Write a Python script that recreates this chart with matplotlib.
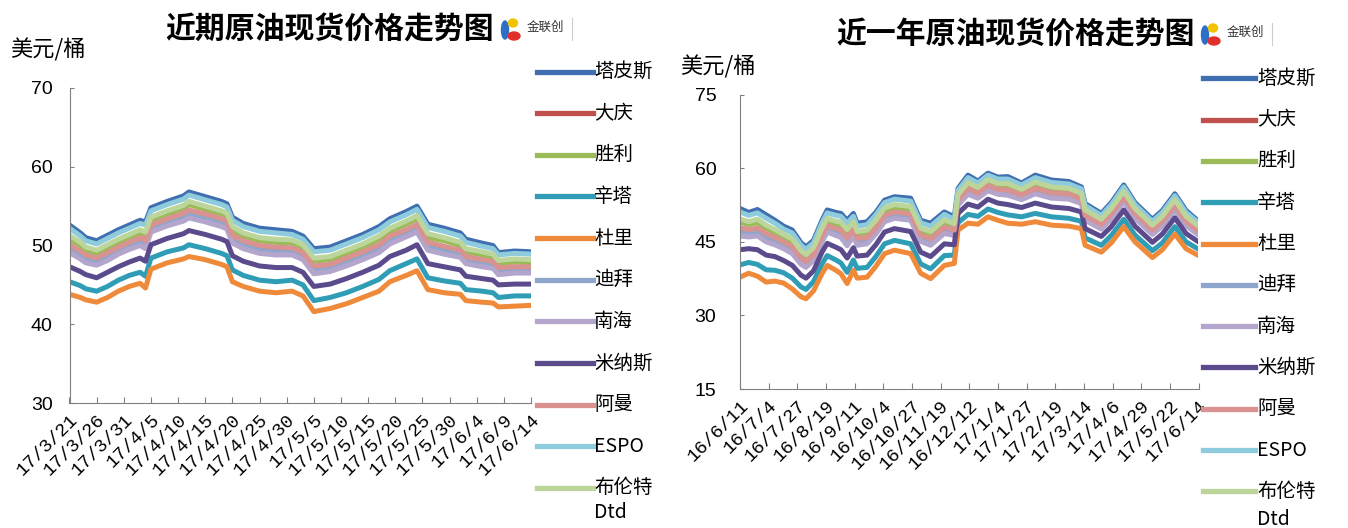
import pandas as pd
import matplotlib.pyplot as plt
from matplotlib.lines import Line2D
from matplotlib.patches import Ellipse

plt.rcParams['font.family'] = ['Noto Sans CJK SC', 'DejaVu Sans']

W, H = 1348, 528


def fx(x):
    return x / W


def fy(y):
    return 1 - y / H


names = ["塔皮斯", "大庆", "胜利", "辛塔", "杜里", "迪拜", "南海", "米纳斯", "阿曼", "ESPO", "布伦特\nDtd"]
colors = ["#3f6fb0", "#c0504d", "#9bbb59", "#2f9db5", "#ef8a3a", "#8fa6cc",
          "#b3a5cc", "#5b4a8c", "#d9928f", "#8ecbdc", "#bcd59a"]

# ---- recent chart (2017-03-21 .. 2017-06-14) ----
recent_dates = pd.to_datetime([
    "2017-03-21", "2017-03-23", "2017-03-24", "2017-03-26", "2017-03-28", "2017-03-30",
    "2017-04-01", "2017-04-03", "2017-04-04", "2017-04-05", "2017-04-08", "2017-04-11",
    "2017-04-12", "2017-04-15", "2017-04-18", "2017-04-19", "2017-04-20", "2017-04-22",
    "2017-04-25", "2017-04-28", "2017-05-01", "2017-05-03", "2017-05-05", "2017-05-08",
    "2017-05-11", "2017-05-14", "2017-05-17", "2017-05-19", "2017-05-22", "2017-05-24",
    "2017-05-26", "2017-05-29", "2017-06-01", "2017-06-02", "2017-06-05", "2017-06-07",
    "2017-06-08", "2017-06-11", "2017-06-14"])
recent_tapis = [52.6, 51.6, 51.0, 50.6, 51.3, 52.0, 52.6, 53.2, 53.0, 54.8, 55.6, 56.3, 56.8, 56.2, 55.6, 55.3, 53.6, 52.8, 52.2, 52.0,
                51.8, 51.2, 49.6, 49.8, 50.6, 51.4, 52.4, 53.4, 54.3, 55.0, 52.7, 52.2, 51.6, 50.8, 50.3, 50.0, 49.1, 49.3, 49.2]
recent_daqing = [49.8, 49.0, 48.5, 48.1, 48.8, 49.5, 50.1, 50.6, 50.3, 52.3, 53.1, 53.7, 54.2, 53.6, 53.0, 52.7, 51.0, 50.2, 49.6, 49.4,
                 49.4, 48.8, 47.0, 47.3, 48.0, 48.8, 49.8, 50.8, 51.7, 52.4, 50.0, 49.6, 49.1, 48.3, 47.9, 47.7, 46.9, 47.1, 47.0]
recent_shengli = [50.8, 50.0, 49.4, 49.0, 49.7, 50.4, 51.0, 51.6, 51.3, 53.2, 54.0, 54.7, 55.2, 54.6, 54.0, 53.7, 52.0, 51.2, 50.6, 50.4,
                  50.3, 49.7, 48.0, 48.2, 49.0, 49.8, 50.8, 51.8, 52.7, 53.4, 51.0, 50.6, 50.0, 49.2, 48.8, 48.5, 47.7, 47.9, 47.8]
recent_cinta = [45.4, 44.9, 44.5, 44.2, 44.8, 45.6, 46.2, 46.6, 46.1, 48.4, 49.2, 49.7, 50.1, 49.6, 49.0, 48.7, 46.9, 46.2, 45.6, 45.4,
                45.6, 45.0, 43.0, 43.4, 44.0, 44.8, 45.7, 46.8, 47.7, 48.3, 45.9, 45.5, 45.2, 44.4, 44.2, 44.0, 43.4, 43.6, 43.6]
recent_duri = [43.8, 43.4, 43.1, 42.8, 43.4, 44.2, 44.8, 45.2, 44.6, 47.0, 47.8, 48.3, 48.6, 48.2, 47.6, 47.3, 45.4, 44.8, 44.2, 44.0,
               44.2, 43.6, 41.6, 42.0, 42.6, 43.4, 44.2, 45.4, 46.2, 46.8, 44.4, 44.0, 43.8, 43.0, 42.8, 42.7, 42.2, 42.3, 42.4]
recent_dubai = [49.5, 48.7, 48.2, 47.9, 48.5, 49.3, 49.9, 50.4, 50.1, 52.1, 52.9, 53.5, 53.9, 53.4, 52.8, 52.5, 50.7, 50.0, 49.4, 49.2,
                49.1, 48.5, 46.8, 47.1, 47.8, 48.6, 49.5, 50.6, 51.5, 52.1, 49.8, 49.3, 48.9, 48.1, 47.7, 47.4, 46.7, 46.9, 46.8]
recent_nanhai = [49.1, 48.3, 47.8, 47.5, 48.1, 48.9, 49.5, 50.0, 49.6, 51.7, 52.5, 53.1, 53.5, 53.0, 52.4, 52.1, 50.3, 49.6, 49.0, 48.8,
                 48.8, 48.2, 46.4, 46.7, 47.4, 48.2, 49.1, 50.2, 51.1, 51.7, 49.4, 48.9, 48.5, 47.7, 47.3, 47.1, 46.3, 46.5, 46.5]
recent_minas = [47.3, 46.7, 46.3, 45.9, 46.6, 47.3, 47.9, 48.4, 48.0, 50.1, 50.9, 51.5, 51.9, 51.4, 50.8, 50.5, 48.7, 48.0, 47.4, 47.2,
                47.2, 46.6, 44.8, 45.1, 45.8, 46.6, 47.5, 48.6, 49.4, 50.1, 47.7, 47.3, 46.9, 46.1, 45.8, 45.6, 45.0, 45.1, 45.1]
recent_oman = [50.1, 49.3, 48.8, 48.4, 49.1, 49.8, 50.4, 51.0, 50.6, 52.6, 53.4, 54.1, 54.5, 54.0, 53.4, 53.1, 51.3, 50.6, 50.0, 49.8,
               49.7, 49.1, 47.4, 47.6, 48.4, 49.2, 50.1, 51.2, 52.0, 52.7, 50.4, 49.9, 49.4, 48.6, 48.2, 48.0, 47.2, 47.3, 47.3]
recent_espo = [52.2, 51.2, 50.6, 50.2, 50.9, 51.6, 52.2, 52.8, 52.6, 54.4, 55.2, 55.9, 56.4, 55.8, 55.2, 54.9, 53.2, 52.4, 51.8, 51.6,
               51.4, 50.8, 49.2, 49.4, 50.2, 51.0, 52.0, 53.0, 53.9, 54.6, 52.3, 51.8, 51.2, 50.4, 49.9, 49.6, 48.8, 49.0, 48.9]
recent_brent = [51.3, 50.4, 49.8, 49.4, 50.1, 50.8, 51.4, 52.0, 51.7, 53.6, 54.4, 55.1, 55.6, 55.0, 54.4, 54.1, 52.4, 51.6, 51.0, 50.8,
                50.7, 50.1, 48.4, 48.6, 49.4, 50.2, 51.2, 52.2, 53.1, 53.8, 51.5, 51.0, 50.4, 49.6, 49.2, 48.9, 48.1, 48.3, 48.2]

# ---- one-year chart (2016-06-11 .. 2017-06-14) ----
year_dates = pd.to_datetime([
    "2016-06-11", "2016-06-18", "2016-06-25", "2016-07-02", "2016-07-09", "2016-07-16", "2016-07-23",
    "2016-07-30", "2016-08-03", "2016-08-09", "2016-08-16", "2016-08-20", "2016-08-27", "2016-08-31",
    "2016-09-05", "2016-09-10", "2016-09-13", "2016-09-21", "2016-09-28", "2016-10-05", "2016-10-13",
    "2016-10-26", "2016-11-03", "2016-11-11", "2016-11-22", "2016-11-30", "2016-12-03", "2016-12-11",
    "2016-12-19", "2016-12-27", "2017-01-04", "2017-01-12", "2017-01-23", "2017-02-03", "2017-02-16",
    "2017-03-02", "2017-03-12", "2017-03-15", "2017-03-28", "2017-04-05", "2017-04-15", "2017-04-24",
    "2017-05-08", "2017-05-16", "2017-05-26", "2017-06-04", "2017-06-14"])
year_tapis = [51.8, 51.0, 51.6, 50.5, 49.4, 48.2, 47.4, 44.8, 44.0, 45.3, 49.5, 51.5, 51.0, 50.8, 49.4, 50.8, 48.8, 49.1, 51.0, 53.5,
              54.2, 53.9, 49.4, 48.8, 51.1, 50.1, 55.9, 58.6, 57.4, 59.0, 58.2, 58.3, 57.0, 58.6, 57.6, 57.3, 56.2, 52.8, 50.8, 53.0,
              56.6, 53.0, 49.6, 51.4, 54.8, 51.4, 49.2]
year_daqing = [47.3, 47.0, 47.2, 46.1, 45.4, 44.5, 43.6, 41.3, 40.6, 42.0, 46.0, 47.9, 47.2, 46.9, 45.3, 47.1, 45.2, 45.5, 47.5, 50.0,
               50.7, 50.3, 45.9, 45.2, 47.6, 47.1, 53.2, 55.5, 54.6, 56.2, 55.4, 55.3, 54.3, 55.6, 54.7, 54.4, 53.5, 50.1, 48.3, 50.4,
               53.9, 50.4, 47.1, 48.8, 52.2, 48.9, 47.0]
year_shengli = [49.0, 48.5, 48.9, 47.8, 46.9, 45.9, 45.0, 42.6, 41.9, 43.2, 47.3, 49.2, 48.6, 48.3, 46.8, 48.5, 46.6, 46.8, 48.8, 51.3,
                52.0, 51.6, 47.2, 46.5, 48.9, 48.2, 54.2, 56.6, 55.6, 57.2, 56.4, 56.4, 55.3, 56.7, 55.8, 55.5, 54.5, 51.1, 49.2, 51.4,
                54.9, 51.4, 48.0, 49.8, 53.2, 49.8, 47.8]
year_cinta = [40.3, 40.8, 40.4, 39.3, 39.2, 38.7, 37.6, 35.8, 35.3, 36.9, 40.6, 42.2, 41.3, 40.7, 38.8, 41.3, 39.6, 39.8, 42.0, 44.6,
              45.3, 44.6, 40.5, 39.5, 42.2, 42.3, 48.9, 50.6, 50.2, 51.7, 51.0, 50.5, 50.1, 50.8, 50.1, 49.8, 49.2, 45.8, 44.3, 46.3,
              49.6, 46.4, 43.2, 44.8, 48.1, 45.0, 43.5]
year_duri = [37.8, 38.6, 38.0, 36.8, 37.0, 36.6, 35.4, 33.8, 33.4, 35.0, 38.6, 40.2, 39.2, 38.5, 36.5, 39.2, 37.6, 37.8, 40.0, 42.6,
             43.3, 42.6, 38.6, 37.5, 40.2, 40.6, 47.4, 48.8, 48.6, 50.1, 49.4, 48.8, 48.6, 49.1, 48.4, 48.2, 47.7, 44.3, 42.9, 44.8,
             48.1, 45.0, 41.8, 43.4, 46.6, 43.6, 42.2]
year_dubai = [46.9, 46.7, 46.8, 45.7, 45.1, 44.1, 43.2, 41.0, 40.3, 41.7, 45.7, 47.5, 46.9, 46.5, 44.9, 46.7, 44.9, 45.1, 47.2, 49.7,
              50.4, 49.9, 45.6, 44.8, 47.3, 46.8, 52.9, 55.2, 54.3, 55.9, 55.1, 55.0, 54.1, 55.3, 54.4, 54.1, 53.2, 49.8, 48.0, 50.1,
              53.6, 50.2, 46.9, 48.6, 51.9, 48.7, 46.8]
year_nanhai = [46.2, 46.0, 46.2, 45.0, 44.4, 43.6, 42.6, 40.4, 39.8, 41.2, 45.1, 47.0, 46.3, 45.9, 44.2, 46.2, 44.3, 44.6, 46.6, 49.1,
               49.8, 49.4, 45.1, 44.3, 46.7, 46.3, 52.5, 54.7, 53.9, 55.4, 54.7, 54.5, 53.6, 54.8, 53.9, 53.7, 52.8, 49.4, 47.6, 49.7,
               53.2, 49.8, 46.5, 48.2, 51.5, 48.3, 46.4]
year_minas = [43.4, 43.6, 43.4, 42.3, 42.0, 41.2, 40.2, 38.2, 37.6, 39.1, 43.0, 44.7, 43.9, 43.4, 41.7, 43.8, 42.1, 42.3, 44.4, 47.0,
              47.7, 47.1, 42.9, 42.0, 44.6, 44.4, 50.8, 52.7, 52.1, 53.7, 52.9, 52.6, 52.0, 52.9, 52.1, 51.8, 51.1, 47.7, 46.1, 48.1,
              51.5, 48.2, 44.9, 46.6, 49.9, 46.7, 45.0]
year_oman = [47.9, 47.5, 47.8, 46.7, 45.9, 45.0, 44.0, 41.7, 41.0, 42.4, 46.4, 48.3, 47.7, 47.4, 45.8, 47.6, 45.7, 45.9, 47.9, 50.4,
             51.1, 50.7, 46.4, 45.6, 48.0, 47.4, 53.5, 55.9, 54.9, 56.5, 55.7, 55.6, 54.6, 55.9, 55.0, 54.8, 53.8, 50.4, 48.6, 50.7,
             54.2, 50.8, 47.4, 49.2, 52.5, 49.2, 47.2]
year_espo = [51.1, 50.4, 50.9, 49.8, 48.8, 47.6, 46.8, 44.3, 43.5, 44.8, 49.0, 50.9, 50.4, 50.2, 48.8, 50.2, 48.2, 48.5, 50.5, 53.0,
             53.7, 53.3, 48.9, 48.2, 50.6, 49.6, 55.5, 58.1, 57.0, 58.6, 57.8, 57.8, 56.6, 58.1, 57.1, 56.8, 55.8, 52.4, 50.4, 52.6,
             56.2, 52.6, 49.2, 51.0, 54.4, 51.0, 48.9]
year_brent = [49.7, 49.1, 49.6, 48.4, 47.5, 46.5, 45.6, 43.2, 42.4, 43.8, 47.9, 49.8, 49.2, 49.0, 47.5, 49.1, 47.1, 47.4, 49.4, 51.9,
              52.6, 52.2, 47.8, 47.1, 49.5, 48.7, 54.6, 57.1, 56.1, 57.7, 56.9, 56.9, 55.7, 57.2, 56.2, 55.9, 54.9, 51.5, 49.6, 51.8,
              55.3, 51.8, 48.4, 50.2, 53.6, 50.2, 48.2]

recent_series = [recent_tapis, recent_daqing, recent_shengli, recent_cinta, recent_duri, recent_dubai,
                 recent_nanhai, recent_minas, recent_oman, recent_espo, recent_brent]
year_series = [year_tapis, year_daqing, year_shengli, year_cinta, year_duri, year_dubai,
               year_nanhai, year_minas, year_oman, year_espo, year_brent]

recent_ticks = pd.date_range("2017-03-21", "2017-06-14", freq="5D")
year_ticks = pd.date_range("2016-06-11", periods=17, freq="23D")

fig = plt.figure(figsize=(W / 100, H / 100), dpi=100)


def draw_panel(rect, dates, series, ticks, ylim, yticks, ypad):
    ax = fig.add_axes(rect)
    for s, c in zip(series, colors):
        ax.plot(dates, s, color=c, lw=3.6, solid_joinstyle="round", solid_capstyle="round")
    ax.set_xlim(dates[0], dates[-1])
    ax.set_ylim(*ylim)
    ax.set_yticks(yticks)
    ax.set_xticks(ticks)
    ax.set_xticklabels([f"{d.year % 100}/{d.month}/{d.day}" for d in ticks],
                       rotation=45, ha="right", va="top", rotation_mode="anchor",
                       family="Liberation Mono", fontsize=13.5)
    for lab in ax.get_yticklabels():
        lab.set_family("Liberation Sans")
    ax.tick_params(axis="x", direction="in", length=4, color="#808080", pad=6)
    ax.tick_params(axis="y", direction="in", length=3, color="#808080", pad=ypad, labelsize=14)
    for side in ["top", "right"]:
        ax.spines[side].set_visible(False)
    for side in ["left", "bottom"]:
        ax.spines[side].set_color("#808080")
    return ax


draw_panel([fx(69.5), fy(403), (531 - 69.5) / W, (403 - 88) / H],
           recent_dates, recent_series, recent_ticks, (30, 70), [30, 40, 50, 60, 70], 12)
draw_panel([fx(740), fy(389), (1198.5 - 740) / W, (389 - 94.7) / H],
           year_dates, year_series, year_ticks, (15, 75), [15, 30, 45, 60, 75], 17)


def legend(x0, x1, tx, y0, dy, dline):
    for i, (name, c) in enumerate(zip(names, colors)):
        y = y0 + i * dy
        fig.add_artist(Line2D([fx(x0), fx(x1)], [fy(y), fy(y)], transform=fig.transFigure,
                              color=c, lw=3.8))
        for j, part in enumerate(name.split("\n")):
            fig.text(fx(tx), fy(y + j * dline), part, va="center", ha="left", fontsize=14)


legend(537, 593, 594, 71.7, 41.6, 25)
legend(1203, 1255, 1257, 78.3, 41.3, 28)


def logo(x, y):
    fig.add_artist(Ellipse((fx(x + 5), fy(y + 1)), 7 / W, 18 / H, color="#2d6fc6", transform=fig.transFigure))
    fig.add_artist(Ellipse((fx(x + 13), fy(y - 6)), 9 / W, 8 / H, color="#f3c300", transform=fig.transFigure))
    fig.add_artist(Ellipse((fx(x + 14), fy(y + 7)), 12 / W, 8 / H, color="#e0302c", transform=fig.transFigure))
    fig.text(fx(x + 27), fy(y - 2), "金联创", fontsize=9, va="center", ha="left", color="#333333")
    fig.add_artist(Line2D([fx(x + 72)] * 2, [fy(y - 11), fy(y + 11)], transform=fig.transFigure,
                          color="#cccccc", lw=0.8))


fig.text(fx(330), fy(30), "近期原油现货价格走势图", ha="center", va="center", fontsize=21.5, fontweight="bold")
fig.text(fx(1016), fy(35), "近一年原油现货价格走势图", ha="center", va="center", fontsize=21.5, fontweight="bold")
logo(500, 29)
logo(1200, 34)

fig.text(fx(10), fy(50), "美元/桶", ha="left", va="center", fontsize=16)
fig.text(fx(680), fy(67), "美元/桶", ha="left", va="center", fontsize=16)

fig.savefig("out.png", dpi=100)
